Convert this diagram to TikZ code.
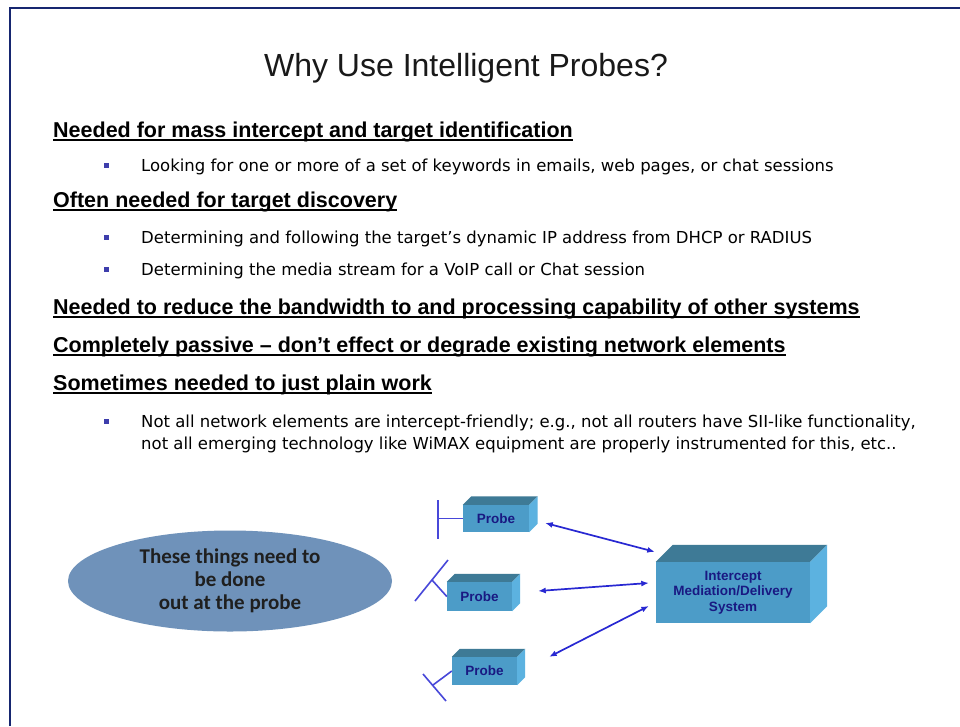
\documentclass[tikz,border=0pt]{standalone}
\usepackage{fontspec}
\setmainfont{Liberation Sans}
\newfontfamily\bodyfont{DejaVu Sans}
\newfontfamily\notefont{Carlito}
\usetikzlibrary{arrows.meta,shapes.geometric}

\definecolor{framenavy}{RGB}{22,38,112}
\definecolor{bulletblue}{RGB}{62,62,172}
\definecolor{ovalblue}{RGB}{111,146,186}
\definecolor{boxfront}{RGB}{76,156,200}
\definecolor{boxtop}{RGB}{62,122,150}
\definecolor{boxside}{RGB}{92,178,224}
\definecolor{linkblue}{RGB}{40,40,210}
\definecolor{labelnavy}{RGB}{25,25,130}

% front face of a cuboid is the node #1; top and right faces are added with depth #2
\newcommand\cuboidfaces[2]{%
  \fill[boxtop] (#1.north west) -- ++(#2,-#2) -- ([shift={(#2,-#2)}]#1.north east) -- (#1.north east) -- cycle;
  \fill[boxside] (#1.north east) -- ++(#2,-#2) -- ([shift={(#2,-#2)}]#1.south east) -- (#1.south east) -- cycle;}

\begin{document}
\begin{tikzpicture}[x=1pt,y=-1pt,
  heading/.style={anchor=base west, inner sep=0pt, font=\fontsize{21.5}{24}\selectfont\bfseries},
  bullettext/.style={anchor=base west, inner sep=0pt, font=\bodyfont\fontsize{16.5}{20}\selectfont},
  bulletmark/.style={fill=bulletblue, minimum size=5pt, inner sep=0pt},
  ul/.style={line width=1.4pt},
  boxface/.style={fill=boxfront, inner sep=0pt, text=labelnavy, align=center,
    font=\fontsize{13.5}{15.5}\selectfont\bfseries},
  antenna/.style={draw=linkblue!85!white, line width=1.6pt},
  link/.style={draw=linkblue, line width=1.7pt, {Latex[length=7.5pt,width=6pt]}-{Latex[length=7.5pt,width=6pt]}}]

\useasboundingbox (0,0) rectangle (960,726);
\fill[white] (0,0) rectangle (960,726);

% slide frame
\draw[framenavy, line width=2.4pt] (10,726) -- (10,8) -- (960,8);

% title
\node[inner sep=0pt, anchor=base, font=\fontsize{32}{36}\selectfont, text=black!90] (title) at (466,76) {Why Use Intelligent Probes?};

% headings and bullets
\node[heading] (h1) at (53,137) {Needed for mass intercept and target identification};
\draw[ul] ([yshift=-3pt]h1.base west) -- ([yshift=-3pt]h1.base east);
\node[bulletmark] (m1) at (106,165) {};
\node[bullettext] (b1) at (141,171) {Looking for one or more of a set of keywords in emails, web pages, or chat sessions};

\node[heading] (h2) at (53,207) {Often needed for target discovery};
\draw[ul] ([yshift=-3pt]h2.base west) -- ([yshift=-3pt]h2.base east);
\node[bulletmark] (m2) at (106,237) {};
\node[bullettext] (b2) at (141,243) {Determining and following the target’s dynamic IP address from DHCP or RADIUS};
\node[bulletmark] (m3) at (106,269) {};
\node[bullettext] (b3) at (141,275) {Determining the media stream for a VoIP call or Chat session};

\node[heading] (h3) at (53,314) {Needed to reduce the bandwidth to and processing capability of other systems};
\draw[ul] ([yshift=-3pt]h3.base west) -- ([yshift=-3pt]h3.base east);
\node[heading] (h4) at (53,352) {Completely passive – don’t effect or degrade existing network elements};
\draw[ul] ([yshift=-3pt]h4.base west) -- ([yshift=-3pt]h4.base east);
\node[heading] (h5) at (53,390) {Sometimes needed to just plain work};
\draw[ul] ([yshift=-3pt]h5.base west) -- ([yshift=-3pt]h5.base east);
\node[bulletmark] (m4) at (106,421) {};
\node[bullettext] (b4a) at (141,427) {Not all network elements are intercept-friendly; e.g., not all routers have SII-like functionality,};
\node[bullettext] (b4b) at (141,449) {not all emerging technology like WiMAX equipment are properly instrumented for this, etc..};

% oval note
\node[ellipse, fill=ovalblue, minimum width=324pt, minimum height=101pt, inner sep=0pt,
  align=center, font=\notefont\fontsize{21}{23}\selectfont\bfseries, text=black!88] (note) at (230,581)
  {These things need to\\be done\\out at the probe};

% probes and mediation system
\node[boxface, minimum width=66pt, minimum height=27pt] (p1) at (496,518.5) {Probe};
\cuboidfaces{p1}{8.5}
\node[boxface, minimum width=65pt, minimum height=29pt] (p2) at (479.5,596.5) {Probe};
\cuboidfaces{p2}{8}
\node[boxface, minimum width=65pt, minimum height=28pt] (p3) at (484.5,671) {Probe};
\cuboidfaces{p3}{8}
\node[boxface, minimum width=154pt, minimum height=61pt] (mds) at (733,592.5) {Intercept\\Mediation/Delivery\\System};
\cuboidfaces{mds}{17}

% taps on the monitored links
\coordinate (t1a) at (438,500);
\coordinate (t1b) at (438,539);
\coordinate (t1) at (438,518.5);
\draw[antenna] (t1a) -- (t1b);
\draw[antenna] (t1) -- (p1.west);
\coordinate (t2a) at (415,601);
\coordinate (t2b) at (448,560);
\coordinate (t2) at (432,580);
\draw[antenna] (t2a) -- (t2b);
\draw[antenna] (t2) -- (p2.west);
\coordinate (t3a) at (423,674);
\coordinate (t3b) at (446,701);
\coordinate (t3) at (433,685);
\draw[antenna] (t3a) -- (t3b);
\draw[antenna] (t3) -- (p3.west);

% probe to mediation links
\draw[link] ([shift={(16,4.5)}]p1.east) -- ([shift={(-1,-10)}]mds.north west);
\draw[link] ([shift={(26,-5.5)}]p2.east) -- ([shift={(-7,-9.5)}]mds.west);
\draw[link] ([shift={(32,0)}]p3.north east) -- ([shift={(-7,13.5)}]mds.west);

\end{tikzpicture}
\end{document}
